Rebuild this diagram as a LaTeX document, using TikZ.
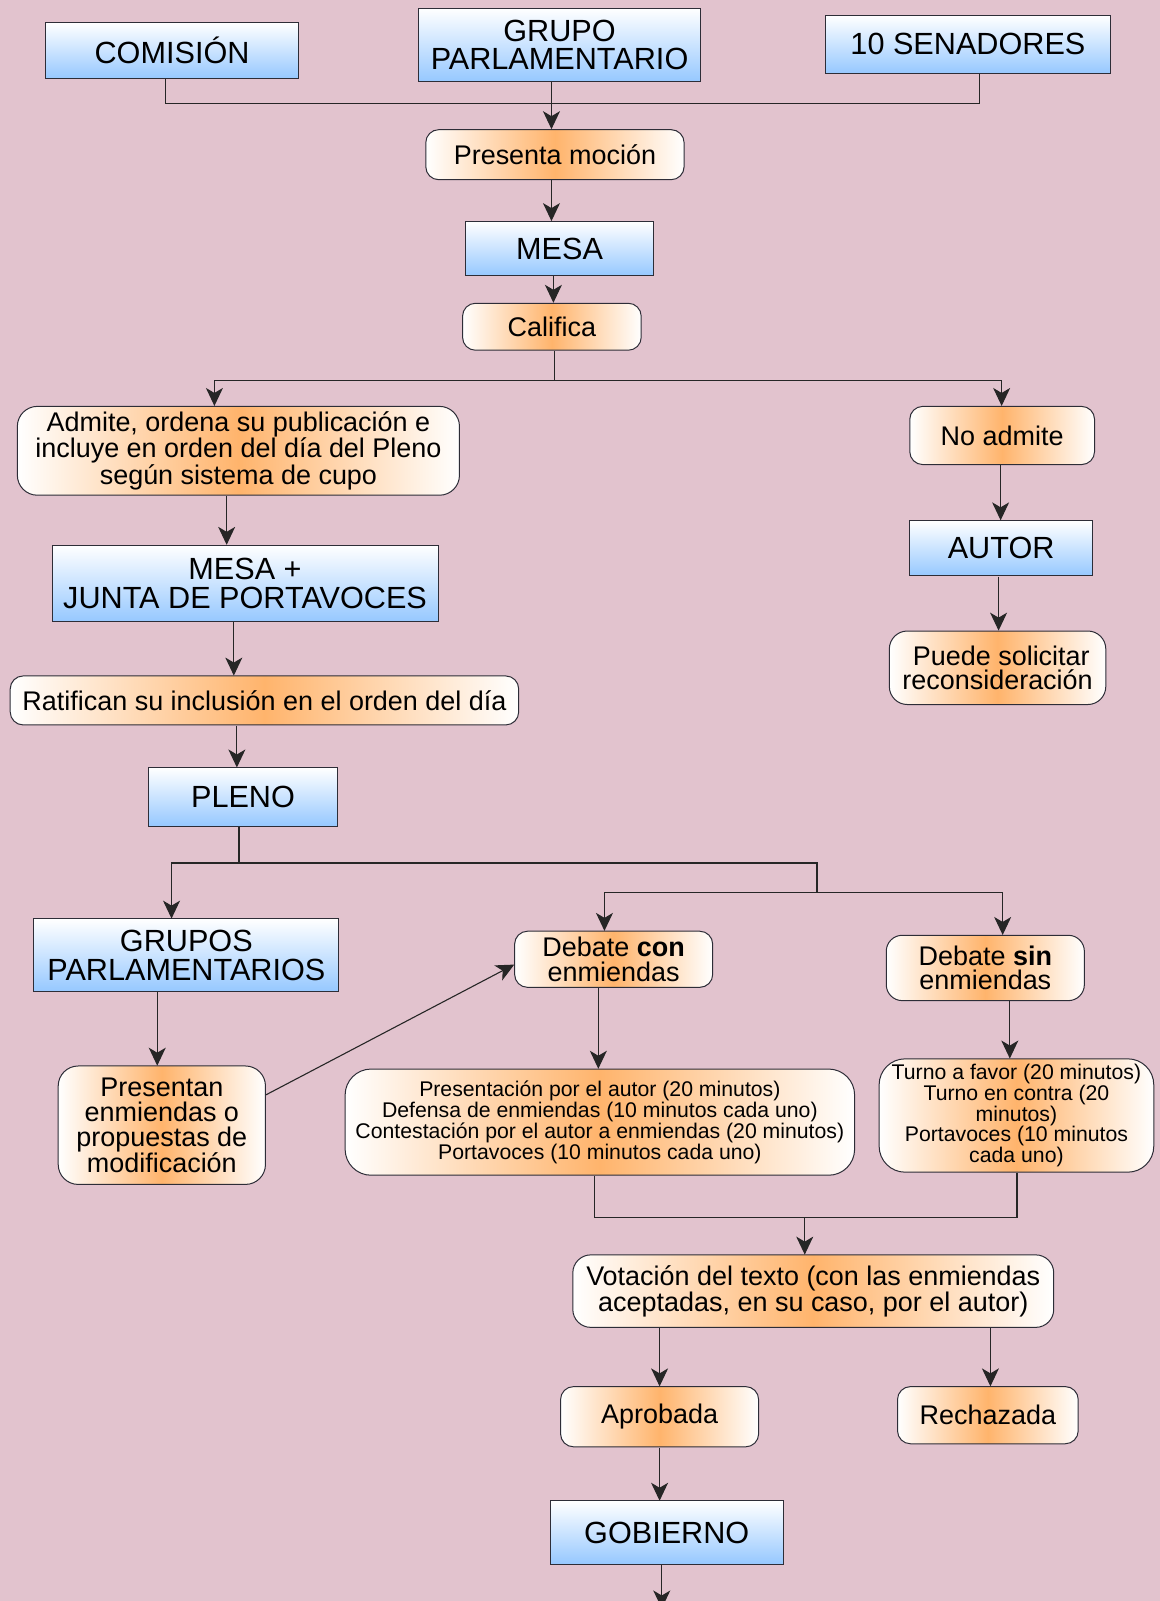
\documentclass[tikz,border=0pt]{standalone}
\usepackage{fontspec}
\setmainfont{Liberation Sans}
\usetikzlibrary{arrows.meta}
\definecolor{bg}{RGB}{226,195,206}
\definecolor{blueB}{RGB}{150,200,255}
\definecolor{orangeC}{RGB}{255,180,108}
\definecolor{edge}{RGB}{45,45,55}
\tikzset{
  bbox/.style={draw=edge, line width=1pt, top color=white, bottom color=blueB,
    inner sep=0pt, align=center, font=\fontsize{30}{28}\selectfont},
  obox/.style={draw=edge, line width=1pt, rounded corners=13pt,
    left color=white, right color=white, middle color=orangeC,
    inner sep=0pt, align=center, font=\fontsize{26.4}{25}\selectfont},
  sbox/.style={obox, rounded corners=26pt, font=\fontsize{20.8}{19}\selectfont},
  ln/.style={draw=black!85, line width=1.1pt},
  arr/.style={ln, -{Stealth[length=18pt,width=17pt,inset=5pt]}},
}
\begin{document}
\begin{tikzpicture}[x=1pt,y=-1pt,scale=1.0211,transform shape]
\useasboundingbox (0,0) rectangle (1136,1568);
\fill[bg] (0,0) rectangle (1136,1568);

% nodes
\node[bbox, minimum width=247, minimum height=55] (comision) at (168.5,49.5) {COMISIÓN};
\node[bbox, minimum width=276, minimum height=72] (grupo) at (548,44) {GRUPO\\PARLAMENTARIO};
\node[bbox, minimum width=280, minimum height=57] (senad) at (948,43.5) {10 SENADORES};
\node[obox, minimum width=253, minimum height=49] (mocion) at (543.5,151.5) {Presenta moción};
\node[bbox, minimum width=184, minimum height=53] (mesa) at (548,243.5) {MESA};
\node[obox, minimum width=175, minimum height=46] (califica) at (540.5,320) {Califica};
\node[obox, rounded corners=20pt, minimum width=433, minimum height=87, font=\fontsize{26.4}{26}\selectfont] (admite) at (233.5,441.5)
  {Admite, ordena su publicación e\\incluye en orden del día del Pleno\\según sistema de cupo};
\node[obox, minimum width=181, minimum height=57] (noadmite) at (981.5,426.5) {No admite};
\node[bbox, minimum width=378, minimum height=75] (mesajunta) at (240,571.5) {MESA +\\JUNTA DE PORTAVOCES};
\node[obox, minimum width=498, minimum height=48] (ratifican) at (259,686) {Ratifican su inclusión en el orden del día};
\node[bbox, minimum width=186, minimum height=57] (pleno) at (238,780.5) {PLENO};
\node[bbox, minimum width=179, minimum height=54] (autor) at (980.5,537) {AUTOR};
\node[obox, rounded corners=18pt, minimum width=212, minimum height=72, font=\fontsize{26.4}{24}\selectfont] (puede) at (977,654) {\ Puede solicitar\\reconsideración};
\node[bbox, minimum width=299, minimum height=71] (grupos) at (182.5,935.5) {GRUPOS\\PARLAMENTARIOS};
\node[obox, rounded corners=20pt, minimum width=203, minimum height=116, font=\fontsize{26.4}{24.5}\selectfont] (presentan) at (158.5,1102)
  {Presentan\\enmiendas o\\propuestas de\\modificación};
\node[obox, minimum width=194, minimum height=55, font=\fontsize{26.4}{24}\selectfont] (debcon) at (601,939.5) {Debate \textbf{con}\\enmiendas};
\node[obox, rounded corners=16pt, minimum width=194, minimum height=64, font=\fontsize{26.4}{24}\selectfont] (debsin) at (965,948) {Debate \textbf{sin}\\enmiendas};
\node[sbox, minimum width=499, minimum height=104] (bigbox) at (587.5,1099)
  {Presentación por el autor (20 minutos)\\Defensa de enmiendas (10 minutos cada uno)\\Contestación por el autor a enmiendas (20 minutos)\\Portavoces (10 minutos cada uno)};
\node[sbox, minimum width=269, minimum height=111] (turno) at (995.5,1092.5)
  {Turno a favor (20 minutos)\\Turno en contra (20\\minutos)\\Portavoces (10 minutos\\cada uno)};
\node[obox, rounded corners=18pt, minimum width=471, minimum height=71] (votacion) at (796.5,1264.5)
  {Votación del texto (con las enmiendas\\aceptadas, en su caso, por el autor)};
\node[obox, minimum width=194, minimum height=59] (aprobada) at (646,1387.5) {Aprobada};
\node[obox, minimum width=177, minimum height=56] (rechazada) at (967.5,1386) {Rechazada};
\node[bbox, minimum width=228, minimum height=62] (gobierno) at (653,1501) {GOBIERNO};

% connectors
\coordinate (t1) at (540,101);
\draw[ln] (comision.south -| 162,0) |- (t1);
\draw[ln] (senad.south -| 959,0) |- (t1);
\draw[arr] (grupo.south -| t1) -- (mocion.north -| t1);
\draw[arr] (mocion.south -| t1) -- (mesa.north -| t1);
\draw[arr] (mesa.south -| 542,0) -- (califica.north -| 542,0);
\coordinate (t2) at (543,373);
\draw[ln] (califica.south -| t2) -- (t2);
\draw[arr] (t2) -| (admite.north -| 210,0);
\draw[arr] (t2) -| (noadmite.north -| 981,0);
\draw[arr] (admite.south -| 222,0) -- (mesajunta.north -| 222,0);
\draw[arr] (mesajunta.south -| 229,0) -- (ratifican.north -| 229,0);
\draw[arr] (ratifican.south -| 232,0) -- (pleno.north -| 232,0);
\draw[arr] (noadmite.south -| 980,0) -- (autor.north -| 980,0);
\draw[arr] (autor.south -| 978,0) -- (puede.north -| 978,0);
\coordinate (t3) at (234,845);
\coordinate (t4) at (800,874);
\draw[ln] (pleno.south -| t3) -- (t3);
\draw[arr] (t3) -| (grupos.north -| 168,0);
\draw[ln] (t3) -| (t4);
\draw[arr] (t4) -| (debcon.north -| 592,0);
\draw[arr] (t4) -| (debsin.north -| 982,0);
\draw[arr] (grupos.south -| 154,0) -- (presentan.north -| 154,0);
\draw[arr] ([yshift=30pt]presentan.east) -- ([yshift=-5pt]debcon.west);
\draw[arr] (debcon.south -| 586,0) -- (bigbox.north -| 586,0);
\draw[arr] (debsin.south -| 989,0) -- (turno.north -| 989,0);
\coordinate (t5) at (788,1192);
\draw[ln] (bigbox.south -| 582,0) |- (t5);
\draw[ln] (turno.south -| 996,0) |- (t5);
\draw[arr] (t5) -- (votacion.north -| t5);
\draw[arr] (votacion.south -| 646,0) -- (aprobada.north -| 646,0);
\draw[arr] (votacion.south -| 970,0) -- (rechazada.north -| 970,0);
\draw[arr] (aprobada.south -| 646,0) -- (gobierno.north -| 646,0);
\coordinate (out) at (648,1575);
\draw[arr] (gobierno.south -| out) -- (out);
\end{tikzpicture}
\end{document}
